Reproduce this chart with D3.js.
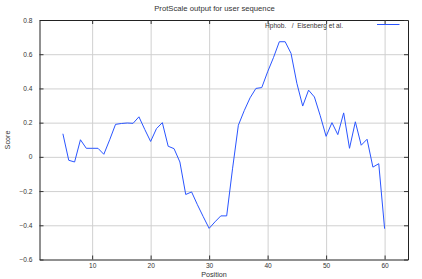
<!DOCTYPE html>
<html>
<head>
<meta charset="utf-8">
<script src="https://cdn.jsdelivr.net/npm/d3@7"></script>
<style>
  body { margin: 0; background: #fff; }
  text { font-family: "Liberation Sans", Arial, sans-serif; fill: #333; }
</style>
</head>
<body>
<div id="chart"></div>
<script>
var width = 422,
	height = 279,
	margin = {top: 20, right: 14, bottom: 20, left: 39.5};

var positions = [5, 6, 7, 8, 9, 10, 11, 12, 13, 14, 15, 16, 17, 18, 19, 20,
	21, 22, 23, 24, 25, 26, 27, 28, 29, 30, 31, 32, 33, 34, 35, 36, 37, 38, 39, 40,
	41, 42, 43, 44, 45, 46, 47, 48, 49, 50, 51, 52, 53, 54, 55, 56, 57, 58, 59, 60];
var scores = [0.135, -0.02, -0.03, 0.10, 0.05, 0.05, 0.05, 0.015, 0.10, 0.19, 0.195, 0.198, 0.196, 0.234, 0.16, 0.09,
	0.165, 0.20, 0.062, 0.048, -0.03, -0.22, -0.205, -0.28, -0.35, -0.418, -0.38, -0.345, -0.345, -0.07, 0.185, 0.27, 0.345, 0.40, 0.405, 0.497,
	0.58, 0.673, 0.673, 0.605, 0.43, 0.297, 0.39, 0.35, 0.24, 0.12, 0.20, 0.13, 0.257, 0.05, 0.205, 0.068, 0.103, -0.06, -0.04, -0.42];
var xTicks = [10, 20, 30, 40, 50, 60];
var yTicks = [-0.6, -0.4, -0.2, 0, 0.2, 0.4, 0.6, 0.8];

var w = width - margin.left - margin.right,
	h = 259.5 - margin.top;

var x = d3.scaleLinear().domain([1, 64]).range([0, w]);
var y = d3.scaleLinear().domain([-0.6, 0.8]).range([h, 0]);

var svg = d3.select("#chart").append("svg")
	.attr("width", width)
	.attr("height", height);

svg.append("text")
	.attr("x", 214.5)
	.attr("y", 10.5)
	.attr("text-anchor", "middle")
	.style("font-size", "7.7px")
	.text("ProtScale output for user sequence");

var g = svg.append("g")
	.attr("transform", "translate(" + margin.left + "," + margin.top + ")");

// grid
g.append("g")
	.attr("transform", "translate(0," + h + ")")
	.call(d3.axisBottom(x).tickValues(xTicks).tickSize(-h).tickFormat(""))
	.call(function(a) { a.select(".domain").remove(); a.selectAll("line").attr("stroke", "#d0d0d0"); });
g.append("g")
	.call(d3.axisLeft(y).tickValues(yTicks.slice(1, -1)).tickSize(-w).tickFormat(""))
	.call(function(a) { a.select(".domain").remove(); a.selectAll("line").attr("stroke", "#d0d0d0"); });

// axes with inward ticks
var fmt = function(d) { return d === 0 ? "0" : d3.format(".1f")(d); };

var xb = g.append("g")
	.attr("transform", "translate(0," + h + ")")
	.call(d3.axisBottom(x).tickValues(xTicks).tickSizeInner(-4).tickSizeOuter(0).tickPadding(3.5));
var yl = g.append("g")
	.call(d3.axisLeft(y).tickValues(yTicks).tickSizeInner(-4).tickSizeOuter(0).tickPadding(7).tickFormat(fmt));
var xt = g.append("g")
	.call(d3.axisTop(x).tickValues(xTicks).tickSizeInner(-4).tickSizeOuter(0).tickFormat(""));
var yr = g.append("g")
	.attr("transform", "translate(" + w + ",0)")
	.call(d3.axisRight(y).tickValues(yTicks).tickSizeInner(-4).tickSizeOuter(0).tickFormat(""));

[xb, yl, xt, yr].forEach(function(a) {
	a.select(".domain").attr("stroke", "#222");
	a.selectAll(".tick line").attr("stroke", "#333");
	a.selectAll("text").style("font-size", "6.6px").attr("fill", "#333").style("font-family", "Liberation Sans, Arial, sans-serif");
});

var line = d3.line()
	.x(function(d, i) { return x(positions[i]); })
	.y(function(d) { return y(d); });

g.append("path")
	.datum(scores)
	.attr("fill", "none")
	.attr("stroke", "#2a55ff")
	.attr("stroke-width", 1)
	.attr("d", line);

// legend
svg.append("text")
	.attr("x", 265)
	.attr("y", 28)
	.style("font-size", "6.6px")
	.attr("xml:space", "preserve")
	.style("white-space", "pre")
	.text("Hphob.   /  Eisenberg et al.");
svg.append("line")
	.attr("x1", 377).attr("x2", 399.5)
	.attr("y1", 24.5).attr("y2", 24.5)
	.attr("stroke", "#2a55ff");

svg.append("text")
	.attr("x", 214)
	.attr("y", 276.7)
	.attr("text-anchor", "middle")
	.style("font-size", "7.2px")
	.text("Position");

svg.append("text")
	.attr("transform", "translate(9.5,140) rotate(-90)")
	.attr("text-anchor", "middle")
	.style("font-size", "7.2px")
	.text("Score");
</script>
</body>
</html>
